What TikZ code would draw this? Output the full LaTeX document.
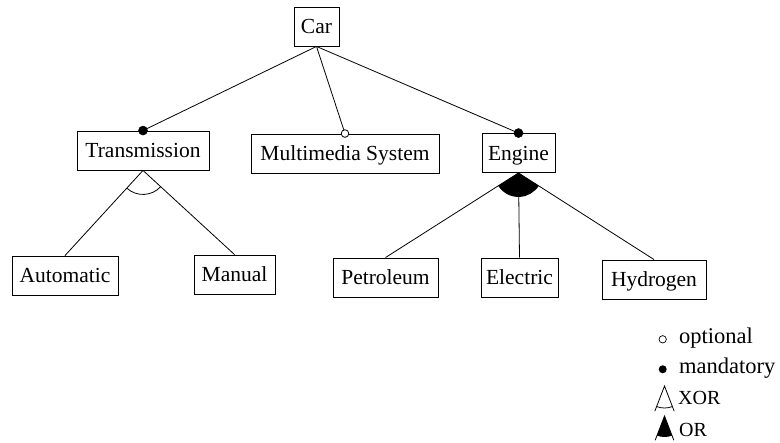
\documentclass[tikz,border=0pt]{standalone}
\usepackage{fontspec}
\setmainfont{Liberation Serif}
\usetikzlibrary{calc}
\begin{document}
\begin{tikzpicture}[x=1pt,y=1pt,
  feature/.style={draw, line width=0.9pt, minimum height=39pt, inner sep=0pt,
    text height=14.5pt, text depth=0pt, font=\fontsize{21.5}{25}\selectfont},
  link/.style={line width=0.8pt},
  mand/.style={fill=black, draw=black, line width=0.5pt},
  opt/.style={fill=white, draw=black, line width=0.8pt},
  lbl/.style={anchor=base west, inner sep=0pt, font=\fontsize{22.5}{26}\selectfont},
  lblop/.style={anchor=base west, inner sep=0pt, font=\fontsize{20}{24}\selectfont}
]
\useasboundingbox (0,0) rectangle (780,-443);

% feature boxes
\node[feature, minimum width=45pt]  (car) at (316.5,-26.5) {Car};
\node[feature, minimum width=132pt] (tr)  at (143,-150.5)  {Transmission};
\node[feature, minimum width=188pt] (mm)  at (345,-153.5)  {Multimedia System};
\node[feature, minimum width=73pt]  (en)  at (518.5,-153)  {Engine};
\node[feature, minimum width=106pt] (au)  at (65,-275.5)   {Automatic};
\node[feature, minimum width=81pt]  (ma)  at (234.5,-274.5) {Manual};
\node[feature, minimum width=105pt] (pe)  at (385.5,-277.5) {Petroleum};
\node[feature, minimum width=77pt]  (el)  at (519.5,-277.5) {Electric};
\node[feature, minimum width=104pt] (hy)  at (654,-279.5)   {Hydrogen};

% Car and its sub-features
\draw[link] (car.south) -- (tr.north);
\draw[link] (car.south) -- (mm.north);
\draw[link] (car.south) -- (en.north);
\filldraw[mand] (tr.north) circle[radius=4.5pt];
\filldraw[opt]  (mm.north) circle[radius=3.8pt];
\filldraw[mand] (en.north) circle[radius=4.5pt];

% Transmission: alternative (XOR) group
\draw[link] (tr.south) -- (au.north);
\draw[link] (tr.south) -- (ma.north);
\draw[link] let \p0=(tr.south), \p1=(au.north), \p2=(ma.north),
  \n1={atan2(\y1-\y0,\x1-\x0)}, \n2={atan2(\y2-\y0,\x2-\x0)}
  in (\p0) ++(\n1:24pt) arc[start angle=\n1, end angle=\n2, radius=24pt];

% Engine: or group
\draw[link] (en.south) -- (pe.north);
\draw[link] (en.south) -- (el.north);
\draw[link] (en.south) -- (hy.north);
\fill let \p0=(en.south), \p1=(pe.north), \p2=(hy.north),
  \n1={atan2(\y1-\y0,\x1-\x0)}, \n2={atan2(\y2-\y0,\x2-\x0)}
  in (\p0) -- ++(\n1:24pt) arc[start angle=\n1, end angle=\n2, radius=24pt] -- cycle;

% legend
\filldraw[opt, line width=0.7pt] (662.7,-339.3) circle[radius=3.7pt];
\node[lbl] (lopt) at (679,-344) {optional};
\fill (662.7,-369.3) circle[radius=4pt];
\node[lbl] (lman) at (679,-373.5) {mandatory};

\coordinate (xa) at (664.5,-386);
\draw[link] (xa) ++(249:27) -- (xa) -- ++(291:27);
\draw[link] (xa) ++(249:22) arc[start angle=249, end angle=291, radius=22];
\node[lblop] (lxor) at (678,-405) {XOR};

\coordinate (oa) at (664.5,-416);
\draw[link] (oa) ++(249:26) -- (oa) -- ++(291:26);
\fill (oa) -- ++(249:21) arc[start angle=249, end angle=291, radius=21] -- cycle;
\node[lblop] (lor) at (679,-437) {OR};
\end{tikzpicture}
\end{document}
